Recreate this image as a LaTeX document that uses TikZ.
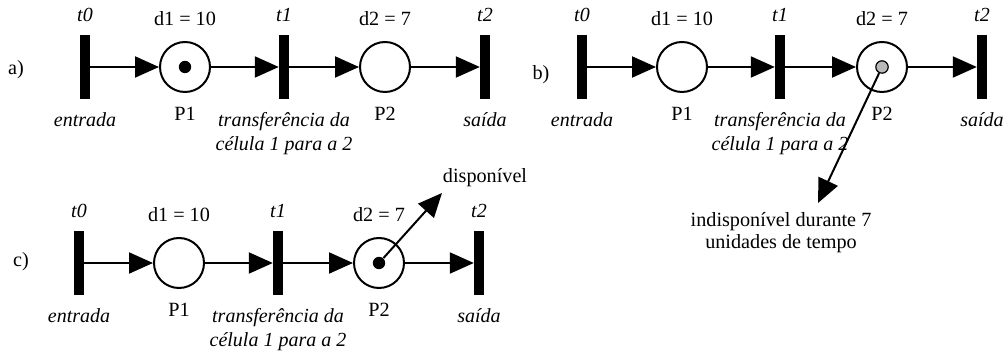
\documentclass[tikz,border=0pt]{standalone}
\usepackage{fontspec}
\setmainfont{Liberation Serif}
\usetikzlibrary{arrows.meta,positioning}
\tikzset{
  trans/.style={rectangle,fill=black,inner sep=0pt,minimum width=4.8pt,minimum height=32pt},
  place/.style={circle,draw,line width=1pt,inner sep=0pt,minimum size=25pt},
  token/.style={circle,fill=black,inner sep=0pt,minimum size=6.2pt},
  busy/.style={token,fill=gray!55,draw=black,line width=0.6pt},
  arc/.style={line width=1pt,-{Triangle[length=12pt,width=10.5pt]}},
  lbl/.style={inner sep=0pt,font=\itshape},
  txt/.style={inner sep=0pt},
}
\begin{document}
\begin{tikzpicture}[x=0.5pt,y=-0.5pt,font=\fontsize{10.1}{11}\selectfont]
\useasboundingbox (0,0) rectangle (1005,356);
% a)
\node[txt] (la) at (16,70) {a)};
\node[trans] (t0a) at (85,67) {};
\node[place] (p1a) at (185,67) {};
\node[token] (k1a) at (185,67) {};
\node[trans] (t1a) at (284,67) {};
\node[place] (p2a) at (385,67) {};
\node[trans] (t2a) at (485,67) {};
\node[lbl,above=6pt of t0a] (nt0a) {t0};
\node[lbl,above=6pt of t1a] (nt1a) {t1};
\node[lbl,above=6pt of t2a] (nt2a) {t2};
\node[txt,above=7.5pt of p1a] (d1a) {d1 = 10};
\node[txt,above=7.5pt of p2a] (d2a) {d2 = 7};
\node[txt,below=6.75pt of p1a] (np1a) {P1};
\node[txt,below=6.75pt of p2a] (np2a) {P2};
\node[lbl,below=6.5pt of t0a] (ea) {entrada};
\node[lbl,below=6.5pt of t1a,align=center] (tra) {transferência da\\célula 1 para a 2};
\node[lbl,below=6.5pt of t2a] (sa) {saída};
\draw[arc] (t0a) -- (p1a);
\draw[arc] (p1a) -- (t1a);
\draw[arc] (t1a) -- (p2a);
\draw[arc] (p2a) -- (t2a);
% b)
\node[txt] (lb) at (541,75) {b)};
\node[trans] (t0b) at (582,67) {};
\node[place] (p1b) at (682,67) {};
\node[trans] (t1b) at (780,67) {};
\node[place] (p2b) at (882,67) {};
\node[busy] (k2b) at (882,67) {};
\node[trans] (t2b) at (982,67) {};
\node[lbl,above=6pt of t0b] (nt0b) {t0};
\node[lbl,above=6pt of t1b] (nt1b) {t1};
\node[lbl,above=6pt of t2b] (nt2b) {t2};
\node[txt,above=7.5pt of p1b] (d1b) {d1 = 10};
\node[txt,above=7.5pt of p2b] (d2b) {d2 = 7};
\node[txt,below=6.75pt of p1b] (np1b) {P1};
\node[txt,below=6.75pt of p2b] (np2b) {P2};
\node[lbl,below=6.5pt of t0b] (eb) {entrada};
\node[lbl,below=6.5pt of t1b,align=center] (trb) {transferência da\\célula 1 para a 2};
\node[lbl,below=6.5pt of t2b] (sb) {saída};
\node[txt,align=center] (indisp) at (781,233) {indisponível durante 7\\unidades de tempo};
\coordinate (endb) at (818,203);
\draw[arc] (t0b) -- (p1b);
\draw[arc] (p1b) -- (t1b);
\draw[arc] (t1b) -- (p2b);
\draw[arc] (p2b) -- (t2b);
\draw[arc] (k2b) -- (endb);
% c)
\node[txt] (lc) at (21,262) {c)};
\node[trans] (t0c) at (79,263) {};
\node[place] (p1c) at (179,263) {};
\node[trans] (t1c) at (278,263) {};
\node[place] (p2c) at (379,263) {};
\node[token] (k2c) at (379,263) {};
\node[trans] (t2c) at (479,263) {};
\node[lbl,above=6pt of t0c] (nt0c) {t0};
\node[lbl,above=6pt of t1c] (nt1c) {t1};
\node[lbl,above=6pt of t2c] (nt2c) {t2};
\node[txt,above=7.5pt of p1c] (d1c) {d1 = 10};
\node[txt,above=7.5pt of p2c] (d2c) {d2 = 7};
\node[txt,below=6.75pt of p1c] (np1c) {P1};
\node[txt,below=6.75pt of p2c] (np2c) {P2};
\node[lbl,below=6.5pt of t0c] (ec) {entrada};
\node[lbl,below=6.5pt of t1c,align=center] (trc) {transferência da\\célula 1 para a 2};
\node[lbl,below=6.5pt of t2c] (sc) {saída};
\node[txt] (disp) at (485,178) {disponível};
\coordinate (endc) at (442,193);
\draw[arc] (t0c) -- (p1c);
\draw[arc] (p1c) -- (t1c);
\draw[arc] (t1c) -- (p2c);
\draw[arc] (p2c) -- (t2c);
\draw[arc] (k2c) -- (endc);
\end{tikzpicture}
\end{document}
